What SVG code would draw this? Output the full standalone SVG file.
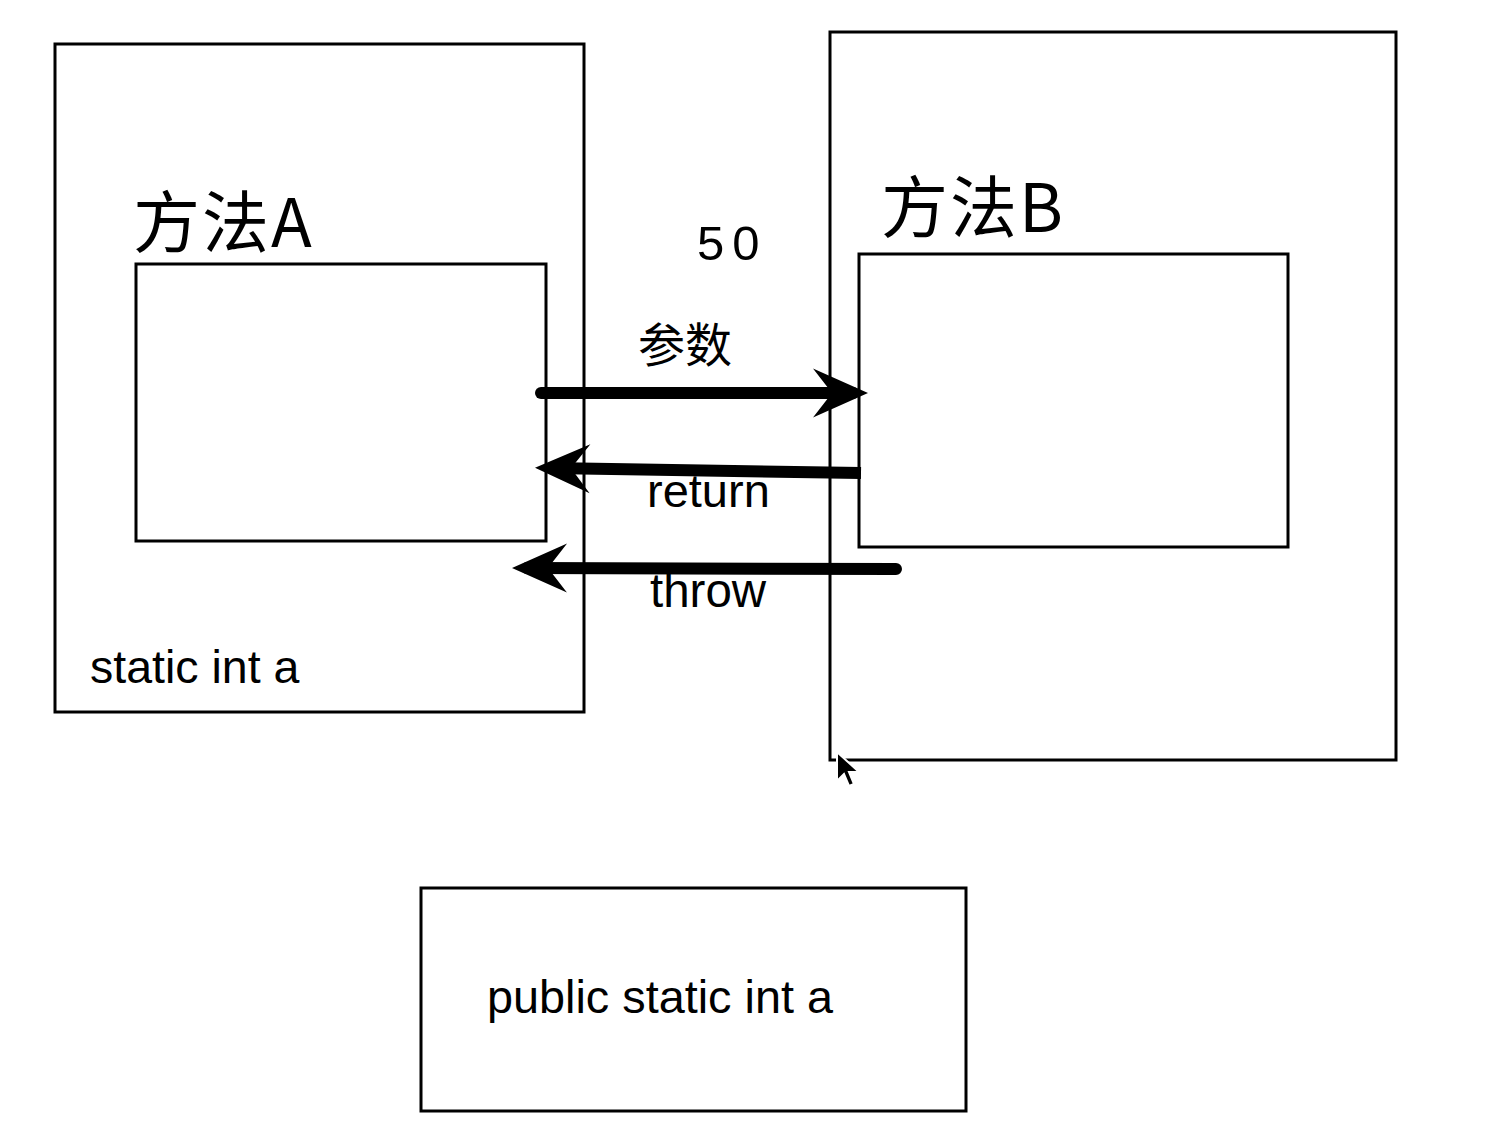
<svg xmlns="http://www.w3.org/2000/svg" width="1494" height="1146" viewBox="0 0 1494 1146">
<style>
.box{fill:none;stroke:#000;stroke-width:3}
.t{font-family:"Liberation Sans","Noto Sans CJK SC",sans-serif;fill:#000}
.cjk{font-family:"Noto Sans CJK SC","Liberation Sans",sans-serif;fill:#000}
.arr{fill:none;stroke:#000;stroke-width:12}
</style>
<defs>
<marker id="head" markerUnits="userSpaceOnUse" viewBox="-45 -27 62 54" refX="0" refY="0" markerWidth="62" markerHeight="54" orient="auto" overflow="visible">
<path d="M15,0 L-40,-24.5 L-21,0 L-40,24.5 Z" fill="#000"/>
</marker>
</defs>
<rect width="1494" height="1146" fill="#fff"/>
<g id="methodA">
<rect class="box" x="55" y="44" width="529" height="668"/>
<text class="cjk" x="133" y="247" font-size="67" letter-spacing="2">方法A</text>
<text class="t" x="90" y="683" font-size="46.5">static int a</text>
</g>
<g id="methodA-inner">
<rect class="box" x="136" y="264" width="410" height="277"/>
</g>
<g id="methodB">
<rect class="box" x="830" y="32" width="566" height="728"/>
<text class="cjk" x="881" y="232" font-size="67" letter-spacing="2">方法B</text>
</g>
<g id="methodB-inner">
<rect class="box" x="859" y="254" width="429" height="293"/>
</g>
<g id="global">
<rect class="box" x="421" y="888" width="545" height="223"/>
<text class="t" x="487" y="1013" font-size="46.8">public static int a</text>
</g>
<g id="connectors">
<path class="arr" d="M541,393 L853,393" stroke-linecap="round" marker-end="url(#head)"/>
<path class="arr" d="M861,473 L550,468" stroke-linecap="butt" marker-end="url(#head)"/>
<path class="arr" d="M896,569 L527,568" stroke-linecap="round" marker-end="url(#head)"/>
</g>
<g id="labels">
<text class="t" x="697" y="260" font-size="49" letter-spacing="8">50</text>
<text class="cjk" x="638" y="362" font-size="47">参数</text>
<text class="t" x="647" y="507" font-size="47">return</text>
<text class="t" x="650" y="607" font-size="47.5">throw</text>
</g>
<path d="M837,752 L837,781 L844,774 L849,786 L854,784 L849,772 L859,772 Z" fill="#000" stroke="#fff" stroke-width="2"/>
</svg>
